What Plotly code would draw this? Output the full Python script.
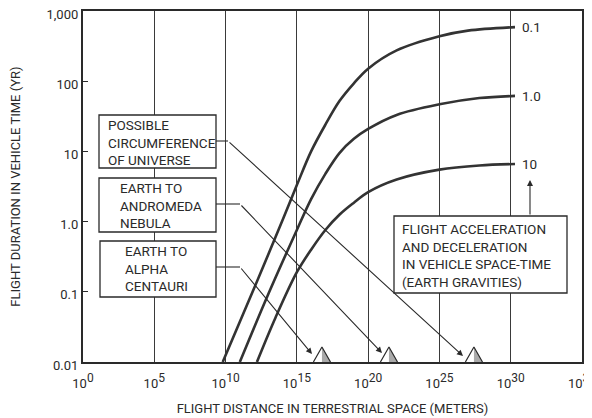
import math
import plotly.graph_objects as go

# ---------------- data ----------------
# flight distance given as log10(metres); flight duration in years
dist_exp_01 = [9.8, 12.0, 14.0, 15.0, 16.0, 17.0, 18.0, 19.0, 20.0, 22.0, 25.0, 27.0, 30.3]
time_01 = [0.01, 0.112, 1.05, 3.31, 10.0, 24.0, 52.5, 93.3, 151.0, 275.0, 437.0, 525.0, 589.0]

dist_exp_1 = [11.0, 13.0, 15.0, 16.0, 17.0, 18.0, 19.0, 20.0, 22.0, 25.0, 27.8, 30.3]
time_1 = [0.01, 0.093, 0.76, 2.09, 4.79, 9.55, 15.1, 20.9, 33.1, 46.8, 57.5, 61.7]

dist_exp_10 = [12.2, 13.5, 15.0, 16.0, 17.0, 18.0, 19.0, 20.0, 22.0, 25.0, 27.8, 30.3]
time_10 = [0.01, 0.0427, 0.19, 0.398, 0.759, 1.26, 1.86, 2.63, 3.98, 5.5, 6.31, 6.61]

accel_labels = ["0.1", "1.0", "10"]

target_names = ["EARTH TO<br>ALPHA<br>CENTAURI",
                "EARTH TO<br>ANDROMEDA<br>NEBULA",
                "POSSIBLE<br>CIRCUMFERENCE<br>OF UNIVERSE"]
target_exp = [16.76, 21.46, 27.42]

x_tick_exp = [0, 5, 10, 15, 20, 25, 30, 35]
y_tick_vals = [0.01, 0.1, 1, 10, 100, 1000]
y_tick_text = ["0.01", "0.1", "1.0", "10", "100", "1,000"]

# ---------------- figure ----------------
FONT = "Roboto"
INK = "#2a2a2a"

fig = go.Figure()

for dx, ty in [(dist_exp_01, time_01), (dist_exp_1, time_1), (dist_exp_10, time_10)]:
    fig.add_trace(go.Scatter(
        x=[10.0 ** e for e in dx], y=ty, mode="lines",
        line=dict(color="#333333", width=2.6, shape="spline", smoothing=1.0),
        showlegend=False, hoverinfo="skip"))

# target markers: small triangles on the distance axis, right half shaded
half_w = 0.6      # decades
tri_h = 0.214     # decades
for c in target_exp:
    apex = 10.0 ** (-2 + tri_h)
    fig.add_trace(go.Scatter(
        x=[10.0 ** c, 10.0 ** c, 10.0 ** (c + half_w), 10.0 ** c],
        y=[0.01, apex, 0.01, 0.01], mode="lines", fill="toself",
        fillcolor="#aaaaaa", line=dict(color="rgba(0,0,0,0)", width=0),
        showlegend=False, hoverinfo="skip", cliponaxis=False))
    fig.add_trace(go.Scatter(
        x=[10.0 ** (c - half_w), 10.0 ** c, 10.0 ** (c + half_w)],
        y=[0.01, apex, 0.01], mode="lines",
        line=dict(color=INK, width=1.2),
        showlegend=False, hoverinfo="skip", cliponaxis=False))

# pixel helpers for layout furniture (plot area on screen: x 83..582, y 11..362)
def px(x):
    return (x - 83) / 499.0

def py(y):
    return (362 - y) / 351.0

shapes = []
annotations = []

# boxes on the left (white fill hides the grid line)
boxes = [(99, 115, 216, 168), (99, 178, 216, 232), (100, 241, 216, 297)]
for (x0, y0, x1, y1) in boxes:
    shapes.append(dict(type="rect", xref="paper", yref="paper",
                       x0=px(x0), x1=px(x1), y0=py(y1), y1=py(y0),
                       fillcolor="white", line=dict(color=INK, width=1.3),
                       layer="above"))
# right-hand box
shapes.append(dict(type="rect", xref="paper", yref="paper",
                   x0=px(394), x1=px(567), y0=py(293), y1=py(216),
                   fillcolor="white", line=dict(color=INK, width=1.3),
                   layer="above"))

# box texts (universe, andromeda, alpha)
box_text_pos = [(106, 142), (118, 205), (123, 268)]
for name, (tx, ty) in zip(target_names[::-1], box_text_pos):
    annotations.append(dict(xref="paper", yref="paper", x=px(tx), y=py(ty),
                            text=name, showarrow=False, xanchor="left",
                            yanchor="middle", align="left",
                            font=dict(family=FONT, size=13.5, color=INK)))

annotations.append(dict(xref="paper", yref="paper", x=px(400), y=py(255.5),
                        text="FLIGHT ACCELERATION<br>AND DECELERATION<br>"
                             "IN VEHICLE SPACE-TIME<br>(EARTH GRAVITIES)",
                        showarrow=False, xanchor="left", yanchor="middle",
                        align="left", font=dict(family=FONT, size=13.5, color=INK)))

# leader lines: short horizontal from box, then arrow to the target
leaders = [((216, 141), (228, 141), (463, 356)),
           ((216, 204), (240, 204), (382, 353)),
           ((216, 267), (240, 267), (312, 354))]
for (a, b, tip) in leaders:
    shapes.append(dict(type="line", xref="paper", yref="paper",
                       x0=px(a[0]), y0=py(a[1]), x1=px(b[0]), y1=py(b[1]),
                       line=dict(color=INK, width=1.1), layer="above"))
    annotations.append(dict(xref="paper", yref="paper", x=px(tip[0]), y=py(tip[1]),
                            ax=b[0] - tip[0], ay=b[1] - tip[1], text="",
                            showarrow=True, arrowhead=2, arrowsize=1.1,
                            arrowwidth=1.1, arrowcolor=INK))

# arrow from right-hand box up to the curve labels
annotations.append(dict(xref="paper", yref="paper", x=px(530), y=py(180),
                        ax=0, ay=36, text="", showarrow=True, arrowhead=2,
                        arrowsize=1.1, arrowwidth=1.1, arrowcolor=INK))

# curve labels
for lab, dx, ty in zip(accel_labels, [dist_exp_01, dist_exp_1, dist_exp_10],
                       [time_01, time_1, time_10]):
    annotations.append(dict(xref="x", yref="y", x=dx[-1], y=math.log10(ty[-1]),
                            text=lab, showarrow=False, xanchor="left",
                            xshift=5, font=dict(family=FONT, size=13.5, color=INK)))

# the page body has an 8 px margin, so the figure is sized 8 px smaller
fig.update_layout(
    width=584, height=410,
    margin=dict(l=75, r=10, t=3, b=56),
    paper_bgcolor="white", plot_bgcolor="white",
    font=dict(family=FONT, size=13, color=INK),
    shapes=shapes, annotations=annotations,
    showlegend=False,
)

fig.update_xaxes(
    type="log", range=[0, 35], automargin=False,
    tickvals=[10.0 ** e for e in x_tick_exp],
    ticktext=["10<sup><span style='font-size:12px'>%d</span></sup>" % e
              for e in x_tick_exp],
    showgrid=True, gridcolor="#3a3a3a", gridwidth=1,
    showline=True, linecolor=INK, linewidth=2.2, mirror=True,
    ticks="", zeroline=False, ticklabelstandoff=8, ticklabeloverflow="allow",
    tickfont=dict(family=FONT, size=13, color=INK),
    title=dict(text="FLIGHT DISTANCE IN TERRESTRIAL SPACE (METERS)",
               font=dict(family=FONT, size=13, color=INK), standoff=14),
)
fig.update_yaxes(
    type="log", range=[-2, 3], automargin=False,
    tickvals=y_tick_vals, ticktext=y_tick_text,
    showgrid=False,
    showline=True, linecolor=INK, linewidth=2.2, mirror=True,
    ticks="inside", ticklen=5, tickcolor=INK, zeroline=False,
    ticklabeloverflow="allow", ticklabelshift=3,
    tickfont=dict(family=FONT, size=13, color=INK),
    title=dict(text="FLIGHT DURATION IN VEHICLE TIME (YR)",
               font=dict(family=FONT, size=13, color=INK), standoff=30),
)

fig.write_html("out.html")
